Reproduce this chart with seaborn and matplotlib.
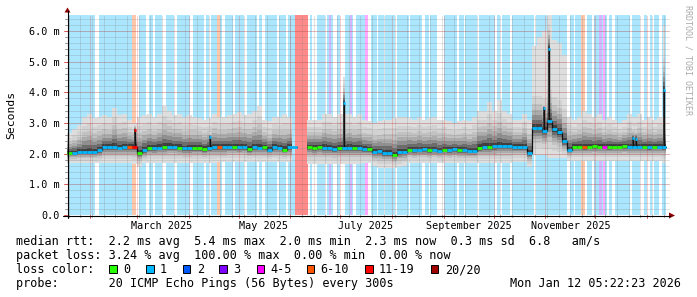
import numpy as np
import pandas as pd
import matplotlib
matplotlib.use("Agg")
import matplotlib.pyplot as plt
import matplotlib.dates as mdates
from matplotlib.patches import Rectangle, Polygon
from matplotlib.lines import Line2D
from matplotlib.collections import LineCollection
import seaborn as sns

# ---------------- data ----------------
START = "2025-01-18"          # left edge of the time axis
BIN_DAYS = 3                  # consolidation step of the smoke / median data
DATA_END_DAY = 359.2          # last sample (Mon Jan 12 05:22 2026)
X_END_DAY = 361.8
Y_MAX = 6.52                  # ms

median_ms = [
    2.03, 2.03, 2.06, 2.06, 2.06, 2.06, 2.12, 2.21, 2.21, 2.22,
    2.20, 2.21, 2.22, 2.23, 2.03, 2.12, 2.19, 2.18, 2.20, 2.22,
    2.23, 2.23, 2.20, 2.17, 2.17, 2.19, 2.19, 2.15, 2.19, 2.21,
    2.21, 2.21, 2.23, 2.23, 2.22, 2.23, 2.15, 2.21, 2.20, 2.21,
    2.13, 2.21, 2.20, 2.13, 2.21, 2.21, np.nan, np.nan, 2.21, 2.20,
    2.21, 2.20, 2.17, 2.16, 2.18, 2.19, 2.20, 2.20, 2.19, 2.15,
    2.15, 2.06, 2.08, 2.03, 2.03, 1.96, 2.06, 2.06, 2.13, 2.12,
    2.13, 2.14, 2.12, 2.13, 2.10, 2.13, 2.12, 2.14, 2.12, 2.12,
    2.09, 2.09, 2.20, 2.23, 2.23, 2.24, 2.26, 2.26, 2.25, 2.23,
    2.23, 2.23, 2.03, 2.84, 2.84, 2.75, 3.05, 2.80, 2.70, 2.40,
    2.13, 2.23, 2.23, 2.22, 2.23, 2.24, 2.23, 2.23, 2.22, 2.23,
    2.23, 2.24, 2.23, 2.23, 2.23, 2.23, 2.22, 2.23, 2.23, 2.23,
]
# loss category index of each median bin (see loss_labels)
loss_idx = [
    0, 1, 1, 1, 1, 1, 1, 1, 1, 1,
    1, 1, 5, 6, 0, 1, 0, 1, 1, 0,
    1, 1, 0, 1, 1, 0, 0, 0, 1, 1,
    5, 1, 1, 0, 1, 1, 0, 1, 1, 0,
    1, 1, 1, 0, 1, 1, 7, 7, 0, 0,
    0, 1, 1, 1, 0, 1, 1, 0, 1, 1,
    0, 1, 1, 1, 1, 0, 1, 1, 0, 1,
    1, 1, 0, 1, 1, 0, 1, 1, 0, 1,
    1, 1, 0, 1, 0, 1, 1, 1, 1, 1,
    1, 1, 1, 1, 1, 1, 1, 1, 1, 1,
    1, 0, 0, 5, 0, 0, 0, 4, 0, 0,
    0, 0, 1, 1, 1, 0, 1, 0, 1, 1,
]
smoke_top_ms = [
    2.67, 2.80, 2.95, 3.20, 3.30, 3.15, 3.20, 3.25, 3.20, 3.50,
    3.25, 3.30, 3.10, 3.00, 3.20, 3.25, 3.30, 3.20, 3.30, 3.55,
    3.40, 3.25, 3.30, 3.20, 3.25, 3.20, 3.15, 3.10, 3.15, 3.30,
    3.20, 3.20, 3.25, 3.30, 3.35, 3.25, 3.30, 3.40, 3.55, 3.10,
    3.05, 3.20, 3.20, 3.30, 3.20, 3.10, np.nan, np.nan, 3.10, 3.10,
    3.10, 3.30, 3.30, 3.20, 3.30, 3.30, 3.30, 3.20, 3.30, 3.10,
    3.05, 3.00, 3.05, 3.10, 3.10, 3.15, 3.20, 3.20, 3.15, 3.10,
    3.20, 3.10, 3.15, 3.20, 3.10, 3.10, 3.05, 3.00, 3.05, 3.10,
    3.05, 3.20, 3.40, 3.40, 3.70, 3.40, 3.75, 3.40, 3.30, 3.10,
    3.10, 3.30, 3.10, 5.50, 5.80, 6.00, 6.52, 5.70, 5.60, 5.20,
    3.20, 3.10, 3.20, 3.40, 3.30, 3.20, 3.30, 3.10, 3.20, 3.10,
    3.00, 3.10, 3.30, 3.20, 3.30, 3.10, 3.20, 3.10, 3.20, 3.20,
]
smoke_bottom_ms = [
    1.68, 1.68, 1.68, 1.68, 1.68, 1.68, 1.68, 1.70, 1.70, 1.70,
    1.70, 1.70, 1.70, 1.65, 1.55, 1.68, 1.70, 1.70, 1.70, 1.70,
    1.70, 1.70, 1.70, 1.70, 1.70, 1.70, 1.70, 1.70, 1.70, 1.70,
    1.72, 1.72, 1.72, 1.72, 1.72, 1.72, 1.72, 1.72, 1.72, 1.72,
    1.72, 1.72, 1.72, 1.72, 1.72, 1.72, np.nan, np.nan, 1.65, 1.65,
    1.65, 1.65, 1.65, 1.65, 1.65, 1.65, 1.65, 1.65, 1.65, 1.68,
    1.68, 1.60, 1.52, 1.52, 1.52, 1.52, 1.55, 1.60, 1.68, 1.68,
    1.68, 1.68, 1.68, 1.68, 1.68, 1.68, 1.68, 1.68, 1.68, 1.68,
    1.68, 1.68, 1.68, 1.68, 1.68, 1.68, 1.68, 1.68, 1.68, 1.72,
    1.72, 1.72, 1.55, 1.95, 1.95, 1.95, 1.85, 1.85, 1.85, 1.85,
    1.76, 1.76, 1.76, 1.76, 1.76, 1.76, 1.76, 1.76, 1.76, 1.76,
    1.76, 1.76, 1.76, 1.76, 1.76, 1.76, 1.76, 1.76, 1.76, 1.70,
]
# short median excursions (single samples): day, median peak, smoke peak
spike_day = [40.8, 85.8, 166.0, 286.2, 289.0, 339.4, 341.4, 358.2]
spike_ms = [2.77, 2.55, 3.65, 3.50, 5.40, 2.50, 2.48, 4.07]
spike_smoke_ms = [3.00, 2.70, 4.50, 3.60, 6.52, 2.90, 2.90, 6.20]

# background: loss (category 1) everywhere except these loss-free gaps (days from START)
gap_start = [0.0, 17.0, 41.4, 47.6, 51.4, 57.0, 64.0, 73.6, 82.0, 85.0, 93.0, 99.4,
             106.0, 114.0, 117.0, 126.0, 131.4, 144.6, 147.0, 154.8, 159.6, 163.8,
             171.6, 180.6, 186.0, 190.0, 196.8, 205.0, 213.0, 217.0, 222.0, 234.0,
             238.0, 246.0, 257.0, 260.0, 266.0, 280.0, 300.0, 304.0, 311.0, 315.0,
             324.0, 327.0, 337.8, 344.0, 348.0, 351.0, 355.4]
gap_end = [1.4, 19.4, 43.4, 49.4, 53.0, 59.4, 66.0, 75.4, 83.4, 86.4, 94.6, 100.6,
           108.0, 115.2, 118.6, 127.2, 132.6, 146.0, 150.0, 156.0, 162.0, 166.8,
           173.4, 182.6, 186.6, 191.0, 198.0, 206.0, 215.0, 218.0, 226.0, 235.0,
           239.0, 247.0, 258.0, 261.0, 267.0, 281.4, 302.0, 305.0, 312.0, 316.0,
           325.0, 329.0, 339.2, 346.0, 350.0, 352.0, 357.0]
# periods with heavier loss
band_start = [39.0, 90.0, 308.4, 137.0, 157.0, 170.0, 319.4, 179.0, 321.4]
band_end = [41.4, 92.0, 310.6, 144.6, 158.6, 171.0, 321.0, 180.6, 322.6]
band_cat = [5, 5, 5, 7, 3, 3, 3, 4, 4]

loss_labels = ["0", "1", "2", "3", "4-5", "6-10", "11-19", "20/20"]
loss_colors = ["#26ff00", "#00b8ff", "#0059ff", "#7e00ff", "#ff00ff", "#ff5500", "#ff0000", "#a00000"]
loss_bg_colors = ["#ffffff", "#aae6fd", "#aac5ff", "#d4b6ff", "#ffaaff", "#ffc7aa", "#ff9a9a", "#ff8a8a"]

month_ticks = ["2025-02-01", "2025-03-01", "2025-04-01", "2025-05-01", "2025-06-01", "2025-07-01",
               "2025-08-01", "2025-09-01", "2025-10-01", "2025-11-01", "2025-12-01", "2026-01-01"]
month_label_dates = ["2025-03-16", "2025-05-16", "2025-07-16", "2025-09-16", "2025-11-16"]
month_label_text = ["March 2025", "May 2025", "July 2025", "September 2025", "November 2025"]
y_ticks = [0, 1, 2, 3, 4, 5, 6]
y_tick_text = ["0.0", "1.0 m", "2.0 m", "3.0 m", "4.0 m", "5.0 m", "6.0 m"]

legend_lines = [
    "median rtt:  2.2 ms avg  5.4 ms max  2.0 ms min  2.3 ms now  0.3 ms sd  6.8   am/s",
    "packet loss: 3.24 % avg  100.00 % max  0.00 % min  0.00 % now",
    "loss color:",
    "probe:       20 ICMP Echo Pings (56 Bytes) every 300s",
]
stamp_text = "Mon Jan 12 05:22:23 2026"
watermark = "RRDTOOL / TOBI OETIKER"

# ---------------- figure ----------------
W, H = 697, 297
sns.set_theme(style="white")
plt.rcParams['font.family'] = ['DejaVu Sans Mono', 'DejaVu Sans']
plt.rcParams['text.color'] = 'black'

fig = plt.figure(figsize=(W / 100, H / 100), dpi=100)
fig.patch.set_facecolor("white")


def fx(x):
    return x / W


def fy(y):
    return 1 - y / H


L, R, TOP, BOT = 67, 670, 15, 215
ax = fig.add_axes([fx(L), fy(BOT), (R - L) / W, (BOT - TOP) / H])
ax.set_facecolor("white")
t0 = mdates.date2num(pd.Timestamp(START))
ax.set_xlim(t0, t0 + X_END_DAY)
ax.set_ylim(0, Y_MAX)
for s in ax.spines.values():
    s.set_visible(False)

# background loss shading
ax.axvspan(t0, t0 + DATA_END_DAY, color=loss_bg_colors[1], lw=0, zorder=0.5)
for s, e in zip(gap_start, gap_end):
    ax.axvspan(t0 + s, t0 + e, color="white", lw=0, zorder=0.6)
for s, e, c in zip(band_start, band_end, band_cat):
    ax.axvspan(t0 + s, t0 + e, color=loss_bg_colors[c], lw=0, zorder=0.7)

# smoke: graded grey layers between the median and the envelope
med = np.array(median_ms, dtype=float)
top = np.array(smoke_top_ms, dtype=float)
bot = np.array(smoke_bottom_ms, dtype=float)
n = len(med)
edges = t0 + np.minimum(np.arange(n + 1) * BIN_DAYS, DATA_END_DAY)
ext = lambda a: np.append(a, a[-1])
shades = [(1.00, "#dedede"), (0.75, "#d2d2d2"), (0.56, "#c2c2c2"), (0.42, "#acacac"),
          (0.30, "#909090"), (0.19, "#6c6c6c"), (0.09, "#404040")]
CAP = 1.4  # the darker inner tones stay close to the median even for wide spreads


def layer(m, edge, f, sign):
    off = np.minimum(f * np.abs(edge - m), CAP * f) if f < 1 else np.abs(edge - m)
    return m + sign * off


for f, c in shades:
    hi = layer(med, top, f, 1)
    lo = layer(med, bot, f, -1)
    ax.fill_between(edges, ext(lo), ext(hi), step="post", color=c, lw=0, zorder=1)

# narrow smoke columns of the spikes
sp_w = 1.3  # days (about two pixels)
for d, p, sm in zip(spike_day, spike_ms, spike_smoke_ms):
    i = min(int(d // BIN_DAYS), n - 1)
    base = med[i]
    for f, c in shades:
        hi = float(layer(np.array([p]), np.array([sm]), f, 1)[0])
        ax.fill_between([t0 + d - sp_w / 2, t0 + d + sp_w / 2], [base, base], [hi, hi],
                        color=c, lw=0, zorder=1.1)

# black step line under the coloured median
rows = []
block = 0
for i in range(n):
    if np.isnan(med[i]):
        block += 1
        continue
    rows.append((edges[i], med[i], block))
    rows.append((edges[i + 1], med[i], block))
df = pd.DataFrame(rows, columns=["t", "ms", "block"])
sns.lineplot(data=df, x="t", y="ms", units="block", estimator=None, sort=False,
             color="#111111", lw=0.9, ax=ax, zorder=3)

# coloured median segments
segs, cols = [], []
for i in range(n):
    if np.isnan(med[i]):
        continue
    segs.append([(edges[i], med[i]), (edges[i + 1], med[i])])
    cols.append(loss_colors[loss_idx[i]])
ax.add_collection(LineCollection(segs, colors=cols, linewidths=2.0, capstyle="butt", zorder=4))

# spikes: thin dark line with a coloured cap
for d, p in zip(spike_day, spike_ms):
    i = min(int(d // BIN_DAYS), n - 1)
    ax.plot([t0 + d, t0 + d], [med[i], p], color="#111111", lw=1.0, zorder=3.5, solid_capstyle="butt")
    ax.plot([t0 + d - 0.7, t0 + d + 0.7], [p, p], color=loss_colors[loss_idx[i]], lw=2.0,
            zorder=4.5, solid_capstyle="butt")
ax.set_xlabel("")
ax.set_ylabel("")

# grid
mt = [mdates.date2num(pd.Timestamp(d)) for d in month_ticks]
weeks = pd.date_range("2025-01-19", periods=53, freq="7D")
wt = [mdates.date2num(d) for d in weeks if mdates.date2num(d) < t0 + X_END_DAY]
dot = (0, (1, 1))
minor_c = (0.5, 0.5, 0.5, 0.45)
major_c = (0.9, 0.1, 0.1, 0.40)
for v in wt:
    ax.axvline(v, color=minor_c, lw=0.72, ls=dot, zorder=2.5)
for v in np.arange(0.2, Y_MAX, 0.2):
    ax.axhline(v, color=minor_c, lw=0.72, ls=dot, zorder=2.5)
for v in mt:
    ax.axvline(v, color=major_c, lw=0.72, ls=dot, zorder=2.6)
for v in y_ticks[1:]:
    ax.axhline(v, color=major_c, lw=0.72, ls=dot, zorder=2.6)

ax.set_xticks([])
ax.set_yticks([])

# tick labels
for v, txt in zip(y_ticks, y_tick_text):
    ax.text(-7 / (R - L), v, txt, transform=ax.get_yaxis_transform(), ha="right",
            va="center_baseline", fontsize=7.3, color="black")
xt = ax.get_xaxis_transform()
for d, txt in zip(month_label_dates, month_label_text):
    ax.text(mdates.date2num(pd.Timestamp(d)), -10 / (BOT - TOP), txt, transform=xt,
            ha="center", va="center_baseline", fontsize=7.3, color="black")
# small tick marks below the x axis and left of the y axis
for v in wt:
    ax.plot([v, v], [0, -2 / (BOT - TOP)], transform=xt, color="#999999", lw=0.7, clip_on=False)
for v in mt:
    ax.plot([v, v], [0, -3 / (BOT - TOP)], transform=xt, color="#dd5555", lw=0.7, clip_on=False)
yt = ax.get_yaxis_transform()
for v in np.arange(0.2, Y_MAX, 0.2):
    ax.plot([0, -2 / (R - L)], [v, v], transform=yt, color="#999999", lw=0.7, clip_on=False)
for v in y_ticks:
    ax.plot([0, -3 / (R - L)], [v, v], transform=yt, color="#dd5555", lw=0.7, clip_on=False)

# axis lines with arrows
fig.add_artist(Line2D([fx(67.5), fx(67.5)], [fy(218), fy(11)], color="black", lw=0.8))
fig.add_artist(Line2D([fx(63), fx(670)], [fy(215.5), fy(215.5)], color="black", lw=0.8))
fig.add_artist(Polygon([(fx(64.5), fy(12.5)), (fx(70.5), fy(12.5)), (fx(67.5), fy(7.5))],
                       closed=True, color="#8b0000", lw=0))
fig.add_artist(Polygon([(fx(669), fy(212.5)), (fx(669), fy(218.5)), (fx(675), fy(215.5))],
                       closed=True, color="#8b0000", lw=0))

# axis title and watermark
fig.text(fx(11), fy(115), "Seconds", rotation=90, ha="center", va="center", fontsize=8.2, color="black")
fig.text(fx(688), fy(5), watermark, rotation=-90, ha="center", va="top", fontsize=6.0, color="#aaaaaa")

# legend block
baselines = [245.3, 259.1, 273.1, 287.2]
for txt, b in zip(legend_lines, baselines):
    fig.text(fx(16.5), fy(b), txt, ha="left", va="baseline", fontsize=8.43, color="black")
fig.text(fx(681), fy(baselines[3]), stamp_text, ha="right", va="baseline", fontsize=8.43, color="black")
box_x = [109, 146, 182.7, 219, 256.7, 306.7, 365, 430.7]
for bx, lab, col in zip(box_x, loss_labels, loss_colors):
    fig.add_artist(Rectangle((fx(bx), fy(273.3)), 7.7 / W, 8.3 / H, facecolor=col,
                             edgecolor="black", lw=0.7))
    fig.text(fx(bx + 14), fy(baselines[2]), lab, ha="left", va="baseline", fontsize=8.43, color="black")

fig.savefig("out.png", dpi=100, facecolor="white")
